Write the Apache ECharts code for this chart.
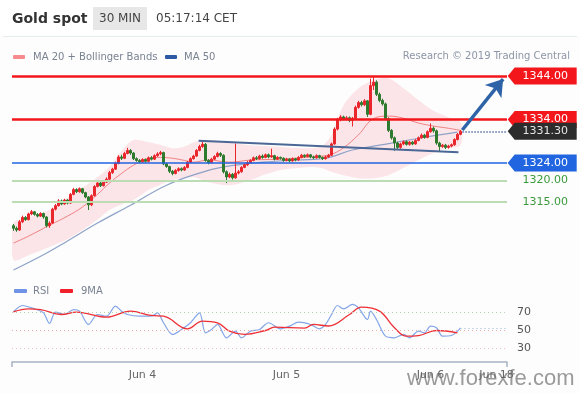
<!DOCTYPE html>
<html><head><meta charset="utf-8">
<script src="https://cdn.jsdelivr.net/npm/echarts@6/dist/echarts.min.js"></script>
<style>html,body{margin:0;padding:0;background:#fff}#c{width:580px;height:393px}</style>
</head><body><div id="c"></div>
<script>
// [open, close, low, high] per 30-min candle
const candles = [
[1309.6,1309.0,1308.4,1310.0],[1309.0,1308.6,1308.2,1309.4],[1308.6,1310.5,1308.4,1310.9],[1310.5,1311.5,1310.2,1311.9],
[1311.5,1311.0,1310.7,1311.8],[1311.0,1312.3,1310.8,1312.6],[1312.3,1312.8,1312.0,1313.2],[1312.8,1312.2,1311.9,1313.0],
[1312.2,1311.8,1311.5,1312.5],[1311.8,1312.4,1311.6,1312.7],[1312.4,1311.6,1311.2,1312.6],[1311.6,1309.6,1309.2,1311.8],
[1309.6,1310.2,1309.1,1310.6],[1310.2,1313.4,1310.0,1313.7],[1313.4,1314.2,1313.1,1314.6],[1314.2,1315.3,1314.0,1315.7],
[1315.3,1314.6,1314.3,1315.6],[1314.6,1315.5,1314.4,1315.8],[1315.5,1314.8,1314.5,1315.7],[1314.8,1316.8,1314.6,1317.1],
[1316.8,1317.9,1316.6,1318.3],[1317.9,1317.4,1317.1,1318.2],[1317.4,1318.1,1317.2,1318.4],[1318.1,1317.2,1316.9,1318.3],
[1317.2,1316.2,1315.9,1317.4],[1316.2,1314.4,1313.2,1316.4],[1314.4,1316.5,1314.1,1316.8],[1316.5,1318.6,1316.3,1318.9],
[1318.6,1319.4,1318.4,1319.8],[1319.4,1318.8,1318.5,1319.7],[1318.8,1319.6,1318.6,1319.9],[1319.6,1320.3,1319.4,1320.7],
[1320.3,1321.8,1320.1,1322.2],[1321.8,1322.6,1321.5,1322.9],[1322.6,1323.9,1322.4,1324.3],[1323.9,1325.4,1323.7,1325.8],
[1325.4,1325.1,1324.7,1325.9],[1325.1,1326.2,1324.9,1326.6],[1326.2,1326.9,1326.0,1327.5],[1326.9,1326.3,1325.9,1327.2],
[1326.3,1325.0,1324.7,1326.5],[1325.0,1324.6,1324.3,1325.3],[1324.6,1324.3,1324.0,1324.9],[1324.3,1324.8,1324.1,1325.1],
[1324.8,1324.4,1324.1,1325.0],[1324.4,1325.2,1324.2,1325.5],[1325.2,1324.9,1324.6,1325.6],[1324.9,1325.7,1324.7,1326.0],
[1325.7,1326.1,1325.4,1326.5],[1326.1,1326.4,1325.8,1326.8],[1326.4,1323.8,1323.5,1326.6],[1323.8,1323.2,1322.9,1324.1],
[1323.2,1322.1,1321.7,1323.4],[1322.1,1321.6,1321.2,1322.4],[1321.6,1322.3,1321.4,1322.6],[1322.3,1322.7,1322.0,1323.0],
[1322.7,1322.4,1322.1,1323.0],[1322.4,1323.0,1322.2,1323.3],[1323.0,1324.2,1322.8,1324.5],[1324.2,1325.0,1324.0,1325.3],
[1325.0,1325.6,1324.8,1325.9],[1325.6,1326.9,1325.4,1327.2],[1326.9,1327.8,1326.7,1328.2],[1327.8,1328.3,1327.5,1329.0],
[1328.3,1324.6,1324.3,1328.6],[1324.6,1324.1,1323.7,1324.9],[1324.1,1324.9,1323.9,1325.2],[1324.9,1325.5,1324.7,1325.8],
[1325.5,1326.2,1325.3,1326.6],[1326.2,1325.8,1325.4,1326.5],[1325.8,1322.0,1321.6,1326.0],[1322.0,1320.8,1319.4,1322.3],
[1320.8,1321.4,1320.5,1321.8],[1321.4,1320.6,1320.2,1321.7],[1320.6,1321.7,1320.4,1328.5],[1321.7,1322.0,1321.4,1322.4],
[1322.0,1323.0,1321.8,1323.3],[1323.0,1323.6,1322.8,1323.9],[1323.6,1324.1,1323.3,1324.5],[1324.1,1324.6,1323.9,1324.9],
[1324.6,1325.2,1324.4,1325.5],[1325.2,1325.0,1324.7,1325.6],[1325.0,1325.6,1324.8,1325.9],[1325.6,1325.3,1325.0,1326.0],
[1325.3,1325.9,1325.1,1326.2],[1325.9,1325.4,1325.1,1326.2],[1325.4,1325.7,1325.2,1327.3],[1325.7,1324.9,1324.6,1325.9],
[1324.9,1325.3,1324.7,1325.6],[1325.3,1325.1,1324.8,1325.5],[1325.1,1324.6,1324.3,1325.3],[1324.6,1324.9,1324.4,1325.2],
[1324.9,1324.5,1324.2,1325.1],[1324.5,1325.0,1324.3,1325.3],[1325.0,1324.7,1324.4,1325.2],[1324.7,1325.3,1324.5,1325.6],
[1325.3,1325.8,1325.1,1326.1],[1325.8,1325.5,1325.2,1326.0],[1325.5,1325.9,1325.3,1326.2],[1325.9,1325.4,1325.1,1326.1],
[1325.4,1325.2,1324.9,1325.7],[1325.2,1325.7,1325.0,1326.0],[1325.7,1325.3,1325.0,1325.9],[1325.3,1325.0,1324.7,1325.5],
[1325.0,1325.4,1324.8,1325.7],[1325.4,1325.8,1325.2,1326.1],[1325.8,1328.4,1325.6,1328.7],[1328.4,1331.8,1328.2,1332.2],
[1331.8,1334.0,1331.5,1334.4],[1334.0,1334.6,1333.6,1335.0],[1334.6,1334.1,1333.8,1334.9],[1334.1,1334.4,1333.8,1334.8],
[1334.4,1333.8,1333.4,1334.7],[1333.8,1334.3,1332.4,1334.6],[1334.3,1336.8,1334.0,1337.2],[1336.8,1337.9,1336.5,1338.3],
[1337.9,1337.4,1337.0,1338.3],[1337.4,1338.3,1337.1,1338.7],[1338.3,1335.2,1334.6,1338.5],[1335.2,1341.8,1335.0,1343.4],
[1341.8,1342.6,1340.8,1343.7],[1342.6,1339.8,1339.4,1343.0],[1339.8,1338.4,1338.0,1340.2],[1338.4,1337.6,1337.2,1338.8],
[1337.6,1334.2,1333.8,1337.9],[1334.2,1331.5,1331.1,1334.5],[1331.5,1329.8,1329.4,1331.8],[1329.8,1328.6,1326.8,1330.1],
[1328.6,1327.6,1327.2,1328.9],[1327.6,1328.4,1327.3,1328.7],[1328.4,1328.9,1328.1,1329.2],[1328.9,1328.3,1328.0,1329.2],
[1328.3,1328.8,1328.0,1329.1],[1328.8,1328.4,1328.1,1329.1],[1328.4,1329.2,1328.2,1329.5],[1329.2,1329.8,1329.0,1330.1],
[1329.8,1330.4,1329.6,1330.8],[1330.4,1329.9,1329.6,1330.7],[1329.9,1331.2,1329.7,1331.5],[1331.2,1332.0,1331.0,1333.1],
[1332.0,1331.4,1331.0,1332.4],[1331.4,1328.6,1328.2,1331.7],[1328.6,1327.8,1326.6,1328.9],[1327.8,1328.1,1327.5,1328.4],
[1328.1,1327.6,1327.2,1328.4],[1327.6,1327.9,1327.3,1328.2],[1327.9,1328.2,1327.6,1328.5],[1328.2,1329.4,1328.0,1329.7],
[1329.4,1330.6,1329.2,1330.9],[1330.6,1331.3,1330.4,1331.6]
];
const slotCount = 165; // candle slots incl. empty space to the right

// Bollinger bands / MA20 (read at candle indices)
const bandIdx   = [0,5,12,18,23,28,32,36,40,45,49,53,57,60,65,72,79,84,89,94,99,103,106,110,115,120,125,130,135,140,145,149];
const bandUpper = [1310.2,1311.5,1313.2,1316.0,1318.3,1320.8,1323.1,1326.8,1329.3,1328.8,1328.2,1327.4,1327.8,1328.8,1329.3,1328.8,1328.1,1327.9,1327.7,1327.5,1327.4,1328.0,1330.5,1337.3,1341.2,1343.1,1343.5,1341.2,1338.5,1336.0,1334.5,1333.4];
const ma20      = [1305.6,1307.2,1309.7,1311.8,1313.9,1316.8,1319.4,1321.6,1323.5,1325.1,1325.3,1325.1,1324.6,1324.2,1324.7,1324.2,1324.7,1324.8,1324.9,1325.1,1325.4,1325.6,1326.0,1327.5,1330.5,1334.2,1334.8,1334.3,1333.2,1332.5,1332.0,1331.5];
const bandLower = [1301.7,1302.8,1304.7,1306.5,1308.6,1311.0,1313.2,1314.5,1315.5,1317.8,1319.0,1320.1,1320.5,1320.8,1319.6,1318.9,1320.1,1321.4,1322.4,1322.8,1323.1,1322.8,1322.0,1321.2,1320.5,1320.5,1321.2,1322.9,1324.7,1326.3,1327.5,1328.1];

const ma50Idx = [0,10,18,28,39,51,62,70,83,95,104,113,122,135,148];
const ma50    = [1299.4,1302.9,1306.1,1310.2,1314.3,1318.9,1321.7,1323.1,1324.2,1324.7,1325.1,1327.0,1328.1,1329.7,1331.1];

// RSI panel
const rsiIdx = [0,3,7,10,12,14,17,20,22,25,28,31,34,36,38,42,46,48,50,53,56,59,62,64,66,68,71,74,76,79,82,85,89,92,95,99,102,104,106,108,110,113,115,118,119,121,124,127,130,132,135,137,139,141,143,146,148,149];
const rsiVal = [70.8,77.8,74,69.6,57.8,70.4,67.8,73.3,71.5,56.7,67.8,65.9,77,71.5,67.8,65.9,65.9,69.6,58.6,45.6,51.1,58.6,69.6,47.4,51.1,56.7,41.9,49.3,41.9,49.3,51.1,58.6,51.9,54.8,59.3,56.7,51.9,56.7,67.8,77.8,74,79,75.2,62.2,71.5,62.2,43.7,41.9,45.6,41.9,49.3,47.4,54.8,53,43.7,44.4,49.3,53];
const rsiMaIdx = [0,5,9,16,21,31,39,46,50,58,63,68,72,77,84,87,97,100,105,112,116,122,127,131,135,141,148];
const rsiMaVal = [70.8,74,73.3,67.8,70.4,64.8,71.5,66.7,66,51.9,60.4,58.6,49.3,45.6,50,53.7,52.6,56.7,55,67.8,75.9,71.5,53,43.7,44.4,50,47.4];

// levels and drawings
const resistance = [1344, 1334];
const support = [1324];
const minorSupport = [1320, 1315];
const lastPrice = 1331.3;
const lastRsi = 53;
const trendline = [[61.7,1329.1],[148.3,1326.5]];
const arrowPts = [[149.6,1331.6],[163.2,1343.3]];
const dateTicks = [43, 91, 139, 161];
const dateNames = ['Jun 4','Jun 5','Jun 6','Jun 18'];
const rsiTicks = [30, 50, 70];

const BG = '#fcfdfc';
const pair = (xs, ys) => xs.map((x, k) => [x, ys[k]]);
const cats = Array.from({length: slotCount}, (_, i) => String(i));
const xMax = slotCount - 0.5;
const FONT = '"DejaVu Sans", Verdana, sans-serif';
const tagPath = 'path://M0,8.5L7,0L69,0L69,17L7,17Z';
function tag(v, bg, fg) {
  return {coord: [xMax - 0.1, v], symbol: tagPath, symbolSize: [69, 17], symbolOffset: [35.5, 0],
    itemStyle: {color: bg},
    label: {show: true, position: 'inside', offset: [3, 0], formatter: v.toFixed(2), color: fg, fontSize: 11, fontFamily: FONT}};
}
function renderBand(params, api) {
  if (params.dataIndex !== 0) return null;
  const up = bandIdx.map((x, k) => api.coord([x, bandUpper[k]]));
  const lo = bandIdx.map((x, k) => api.coord([x, bandLower[k]])).reverse();
  return {type: 'polygon', shape: {points: up.concat(lo), smooth: 0.3}, style: {fill: '#fce5e8'}};
}

const chart = echarts.init(document.getElementById('c'), null, {renderer: 'canvas'});
chart.setOption({
  animation: false,
  backgroundColor: BG,
  grid: [
    {left: 12, right: 73, top: 63, height: 217.5},
    {left: 12, right: 73, top: 299, height: 63}
  ],
  xAxis: [
    {type: 'category', gridIndex: 0, data: cats, show: false},
    {type: 'value', gridIndex: 0, min: -0.5, max: xMax, show: false},
    {type: 'value', gridIndex: 1, min: -0.5, max: xMax,
      axisLine: {show: true, lineStyle: {color: '#a9b2c4', width: 1.5}},
      axisTick: {show: true, customValues: [-0.5, xMax], length: 5, lineStyle: {color: '#a9b2c4', width: 1.5}},
      axisLabel: {customValues: dateTicks, formatter: v => dateNames[dateTicks.indexOf(v)] || '', color: '#666', fontSize: 11, fontFamily: FONT, margin: 8},
      splitLine: {show: false}}
  ],
  yAxis: [
    {type: 'value', gridIndex: 0, min: 1297, max: 1347, show: false},
    {type: 'value', gridIndex: 1, min: 15, max: 85, interval: 5, position: 'right',
      axisLine: {show: false}, axisTick: {show: false}, splitLine: {show: false},
      axisLabel: {formatter: v => rsiTicks.includes(v) ? String(v) : '', color: '#555', fontSize: 11, fontFamily: FONT, margin: 10}}
  ],
  series: [
    {type: 'custom', coordinateSystem: 'cartesian2d', xAxisIndex: 1, yAxisIndex: 0, clip: true,
      data: [[bandIdx[0], bandLower[0]]], renderItem: renderBand, silent: true, z: 1},
    {type: 'line', xAxisIndex: 1, yAxisIndex: 0, symbol: 'none', smooth: 0.4, data: pair(bandIdx, ma20),
      lineStyle: {color: 'rgba(236,96,96,0.75)', width: 1}, z: 2},
    {type: 'line', xAxisIndex: 1, yAxisIndex: 0, symbol: 'none', smooth: 0.4, data: pair(ma50Idx, ma50),
      lineStyle: {color: '#8ea2c8', width: 1.2}, z: 2},
    {type: 'candlestick', xAxisIndex: 0, yAxisIndex: 0, data: candles, barWidth: 1.6, z: 3,
      itemStyle: {color: '#e8262c', color0: '#2e7a2e', borderColor: '#e8262c', borderColor0: '#2e7a2e', borderWidth: 1}},
    {type: 'line', xAxisIndex: 1, yAxisIndex: 0, symbol: 'none', data: [[0, null]], z: 4,
      markLine: {silent: true, symbol: ['none', 'none'], label: {show: false},
        data: [
          ...resistance.map(v => ({yAxis: v, lineStyle: {color: '#f3171c', width: 2.5, type: 'solid'}})),
          ...support.map(v => ({yAxis: v, lineStyle: {color: '#2265e0', width: 1.5, type: 'solid'}})),
          ...minorSupport.map(v => ({yAxis: v, lineStyle: {color: '#bcdcb4', width: 2, type: 'solid'}})),
          [{coord: [arrowPts[0][0], lastPrice], lineStyle: {color: '#5a70a0', width: 1.5, type: 'dotted'}}, {coord: [xMax, lastPrice]}],
          [{coord: trendline[0], lineStyle: {color: '#4a6796', width: 2, type: 'solid'}}, {coord: trendline[1]}],
          [{coord: arrowPts[0], symbol: 'none', lineStyle: {color: '#2e63a8', width: 3.5, type: 'solid'}}, {coord: arrowPts[1], symbol: 'arrow', symbolSize: 16}]
        ]},
      markPoint: {silent: true,
        data: [
          ...resistance.map(v => tag(v, '#f3171c', '#fff')),
          tag(lastPrice, '#2c2c2c', '#e4e4e4'),
          ...support.map(v => tag(v, '#2265e0', '#fff')),
          ...minorSupport.map(v => tag(v, 'rgba(0,0,0,0)', '#3c9a3c'))
        ]}},
    {type: 'line', xAxisIndex: 2, yAxisIndex: 1, symbol: 'none', smooth: 0.3, data: pair(rsiIdx, rsiVal),
      lineStyle: {color: '#84a5e8', width: 1.2}, z: 3,
      markLine: {silent: true, symbol: ['none', 'none'], label: {show: false},
        data: [
          {yAxis: 70, lineStyle: {color: '#b3d3b3', width: 1, type: [1, 3]}},
          {yAxis: 50, lineStyle: {color: '#f0aaaa', width: 1, type: [1, 3]}},
          {yAxis: 30, lineStyle: {color: '#f2bcbc', width: 1, type: [1, 3]}},
          [{coord: [rsiIdx[rsiIdx.length - 1], lastRsi], lineStyle: {color: '#8fbbe0', width: 1.2, type: [1, 3]}}, {coord: [xMax, lastRsi]}]
        ]}},
    {type: 'line', xAxisIndex: 2, yAxisIndex: 1, symbol: 'none', smooth: 0.4, data: pair(rsiMaIdx, rsiMaVal),
      lineStyle: {color: '#ee3036', width: 1.3}, z: 4}
  ],
  graphic: [
    {type: 'rect', shape: {x: 0, y: 0, width: 580, height: 36}, style: {fill: '#ffffff'}},
    {type: 'line', shape: {x1: 3, y1: 36.5, x2: 577, y2: 36.5}, style: {stroke: '#e6ece6', lineWidth: 1}},
    {type: 'text', style: {x: 12, y: 19, text: 'Gold spot', font: 'bold 14px ' + FONT, fill: '#333', verticalAlign: 'middle'}},
    {type: 'rect', shape: {x: 93, y: 7, width: 54, height: 23}, style: {fill: '#e7e7e7'}},
    {type: 'text', style: {x: 120, y: 19, text: '30 MIN', font: '12px ' + FONT, fill: '#444', align: 'center', verticalAlign: 'middle'}},
    {type: 'text', style: {x: 156, y: 19, text: '05:17:14 CET', font: '12px ' + FONT, fill: '#444', verticalAlign: 'middle'}},
    {type: 'rect', shape: {x: 13, y: 55, width: 12, height: 4, r: 1}, style: {fill: '#f68a8c'}},
    {type: 'text', style: {x: 33, y: 57, text: 'MA 20 + Bollinger Bands', font: '10px ' + FONT, fill: '#7a8292', verticalAlign: 'middle'}},
    {type: 'rect', shape: {x: 165, y: 55, width: 12, height: 4, r: 1}, style: {fill: '#2d5aa5'}},
    {type: 'text', style: {x: 184, y: 57, text: 'MA 50', font: '10px ' + FONT, fill: '#7a8292', verticalAlign: 'middle'}},
    {type: 'text', style: {x: 570, y: 56, text: 'Research \u00a9 2019 Trading Central', font: '10px ' + FONT, fill: '#8d96a6', align: 'right', verticalAlign: 'middle'}},
    {type: 'rect', shape: {x: 14, y: 289, width: 13, height: 4, r: 1}, style: {fill: '#6f93e6'}},
    {type: 'text', style: {x: 33, y: 291, text: 'RSI', font: '10px ' + FONT, fill: '#7a8292', verticalAlign: 'middle'}},
    {type: 'rect', shape: {x: 60, y: 289, width: 13, height: 4, r: 1}, style: {fill: '#f2202a'}},
    {type: 'text', style: {x: 81, y: 291, text: '9MA', font: '10px ' + FONT, fill: '#7a8292', verticalAlign: 'middle'}},
    {type: 'text', style: {x: 407, y: 379, text: 'www.forexfe.com', font: '22px "Liberation Sans", Arial, sans-serif', fill: 'rgba(115,115,115,0.72)', verticalAlign: 'middle'}}
  ]
});
</script></body></html>
